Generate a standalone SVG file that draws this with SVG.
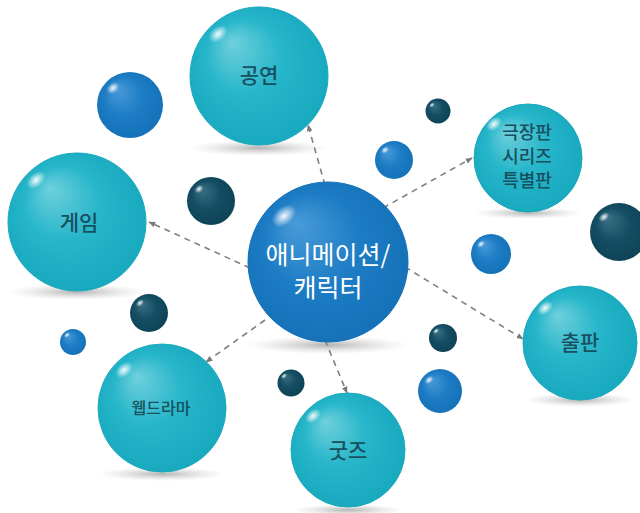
<svg xmlns="http://www.w3.org/2000/svg" width="640" height="513" viewBox="0 0 640 513">
<defs>
<radialGradient id="gTeal" cx="0.5" cy="0.5" r="0.6" fx="0.3" fy="0.25">
<stop offset="0" stop-color="#6fd0dd"/>
<stop offset="0.45" stop-color="#27b6ca"/>
<stop offset="1" stop-color="#14a6bc"/>
</radialGradient>
<radialGradient id="gBlue" cx="0.5" cy="0.5" r="0.6" fx="0.3" fy="0.25">
<stop offset="0" stop-color="#4a9bd8"/>
<stop offset="0.5" stop-color="#1c7cc4"/>
<stop offset="1" stop-color="#136fb6"/>
</radialGradient>
<radialGradient id="gDark" cx="0.5" cy="0.5" r="0.6" fx="0.3" fy="0.25">
<stop offset="0" stop-color="#3a7084"/>
<stop offset="0.5" stop-color="#144d62"/>
<stop offset="1" stop-color="#0d4154"/>
</radialGradient>
<radialGradient id="gHi" cx="0.5" cy="0.5" r="0.5">
<stop offset="0" stop-color="#ffffff" stop-opacity="0.95"/>
<stop offset="1" stop-color="#ffffff" stop-opacity="0"/>
</radialGradient>
<radialGradient id="gShadow" cx="0.5" cy="0.5" r="0.5">
<stop offset="0" stop-color="#9a9a9a" stop-opacity="0.75"/>
<stop offset="1" stop-color="#c8c8c8" stop-opacity="0"/>
</radialGradient>
<marker id="arr" viewBox="0 0 10 10" refX="9" refY="5" markerWidth="7" markerHeight="7" orient="auto" markerUnits="userSpaceOnUse">
<path d="M0,1 L10,5 L0,9 Z" fill="#7a7a7a"/>
</marker>
</defs>
<style>
.teal{fill:url(#gTeal);stroke:#1aa9be;stroke-width:1}
.blue{fill:url(#gBlue)}
.dark{fill:url(#gDark)}
.hi{fill:url(#gHi)}
.sh{fill:url(#gShadow)}
.lbl{font-family:"Noto Sans CJK KR","Noto Sans",sans-serif;fill:#17505e;text-anchor:middle;font-weight:500}
.ctr{font-family:"Noto Sans CJK KR","Noto Sans",sans-serif;fill:#ffffff;text-anchor:middle;font-size:25px}
.con{stroke:#808080;stroke-width:1.6;stroke-dasharray:6 5;fill:none;marker-end:url(#arr)}
</style>
<rect width="640" height="513" fill="#ffffff"/>

<g id="shadows">
<ellipse class="sh" cx="259" cy="148" rx="70" ry="8"/>
<ellipse class="sh" cx="77" cy="292" rx="70" ry="8"/>
<ellipse class="sh" cx="528" cy="213" rx="54" ry="6"/>
<ellipse class="sh" cx="580" cy="400" rx="56" ry="7"/>
<ellipse class="sh" cx="162" cy="474" rx="64" ry="7"/>
<ellipse class="sh" cx="348" cy="510" rx="56" ry="6"/>
<ellipse class="sh" cx="328" cy="345" rx="82" ry="9"/>
</g>

<g id="decor">
<circle class="blue" cx="130" cy="105" r="33"/><ellipse class="hi" cx="113" cy="88" rx="7" ry="5" transform="rotate(-40 113 88)"/>
<circle class="dark" cx="211" cy="201" r="24"/><ellipse class="hi" cx="199" cy="189" rx="5" ry="3.5" transform="rotate(-40 199 189)"/>
<circle class="dark" cx="438" cy="111" r="12.5"/><ellipse class="hi" cx="432" cy="105" rx="3" ry="2" transform="rotate(-40 432 105)"/>
<circle class="blue" cx="394" cy="160" r="19"/><ellipse class="hi" cx="385" cy="150" rx="4.5" ry="3" transform="rotate(-40 385 150)"/>
<circle class="dark" cx="619" cy="232" r="29"/><ellipse class="hi" cx="604" cy="217" rx="6" ry="4" transform="rotate(-40 604 217)"/>
<circle class="blue" cx="491" cy="254" r="20"/><ellipse class="hi" cx="481" cy="244" rx="4.5" ry="3" transform="rotate(-40 481 244)"/>
<circle class="dark" cx="149" cy="313" r="19"/><ellipse class="hi" cx="140" cy="303" rx="4.5" ry="3" transform="rotate(-40 140 303)"/>
<circle class="blue" cx="73" cy="342" r="13"/><ellipse class="hi" cx="67" cy="335" rx="3.5" ry="2.3" transform="rotate(-40 67 335)"/>
<circle class="dark" cx="443" cy="338" r="14"/><ellipse class="hi" cx="436" cy="331" rx="3.5" ry="2.3" transform="rotate(-40 436 331)"/>
<circle class="dark" cx="291" cy="383" r="13.5"/><ellipse class="hi" cx="284" cy="376" rx="3.5" ry="2.3" transform="rotate(-40 284 376)"/>
<circle class="blue" cx="440" cy="391" r="22"/><ellipse class="hi" cx="429" cy="380" rx="5" ry="3.3" transform="rotate(-40 429 380)"/>
</g>

<g id="connectors">
<line class="con" x1="325" y1="185" x2="308" y2="125"/>
<line class="con" x1="383" y1="208" x2="472" y2="158"/>
<line class="con" x1="250" y1="268" x2="149" y2="222"/>
<line class="con" x1="405" y1="267" x2="523" y2="339"/>
<line class="con" x1="265" y1="320" x2="206" y2="362"/>
<line class="con" x1="325" y1="340" x2="347" y2="393"/>
</g>

<g id="node-center">
<circle cx="328" cy="262" r="80" fill="url(#gBlue)" stroke="#1570b8" stroke-width="1"/>
<ellipse class="hi" cx="284" cy="216" rx="14" ry="9" transform="rotate(-40 284 216)"/>
<text class="ctr" x="328" y="264">애니메이션/</text>
<text class="ctr" x="328" y="297">캐릭터</text>
</g>

<g id="node-gongyeon">
<circle class="teal" cx="259" cy="76" r="69"/>
<ellipse class="hi" cx="218" cy="34" rx="11" ry="7" transform="rotate(-40 218 34)"/>
<text class="lbl" x="259" y="83" font-size="21">공연</text>
</g>

<g id="node-game">
<circle class="teal" cx="77" cy="222" r="69"/>
<ellipse class="hi" cx="36" cy="180" rx="11" ry="7" transform="rotate(-40 36 180)"/>
<text class="lbl" x="79" y="230" font-size="21">게임</text>
</g>

<g id="node-theater">
<circle class="teal" cx="528" cy="158" r="54"/>
<ellipse class="hi" cx="494" cy="124" rx="9" ry="6" transform="rotate(-40 494 124)"/>
<text class="lbl" x="527" y="139" font-size="18">극장판</text>
<text class="lbl" x="527" y="163" font-size="18">시리즈</text>
<text class="lbl" x="527" y="187" font-size="18">특별판</text>
</g>

<g id="node-publish">
<circle class="teal" cx="580" cy="343" r="57"/>
<ellipse class="hi" cx="545" cy="308" rx="9" ry="6" transform="rotate(-40 545 308)"/>
<text class="lbl" x="580" y="350" font-size="21">출판</text>
</g>

<g id="node-webdrama">
<circle class="teal" cx="162" cy="408" r="64"/>
<ellipse class="hi" cx="124" cy="370" rx="10" ry="6.5" transform="rotate(-40 124 370)"/>
<text class="lbl" x="161" y="414" font-size="16">웹드라마</text>
</g>

<g id="node-goods">
<circle class="teal" cx="348" cy="450" r="57"/>
<ellipse class="hi" cx="313" cy="416" rx="9" ry="6" transform="rotate(-40 313 416)"/>
<text class="lbl" x="348" y="458" font-size="21">굿즈</text>
</g>
</svg>
